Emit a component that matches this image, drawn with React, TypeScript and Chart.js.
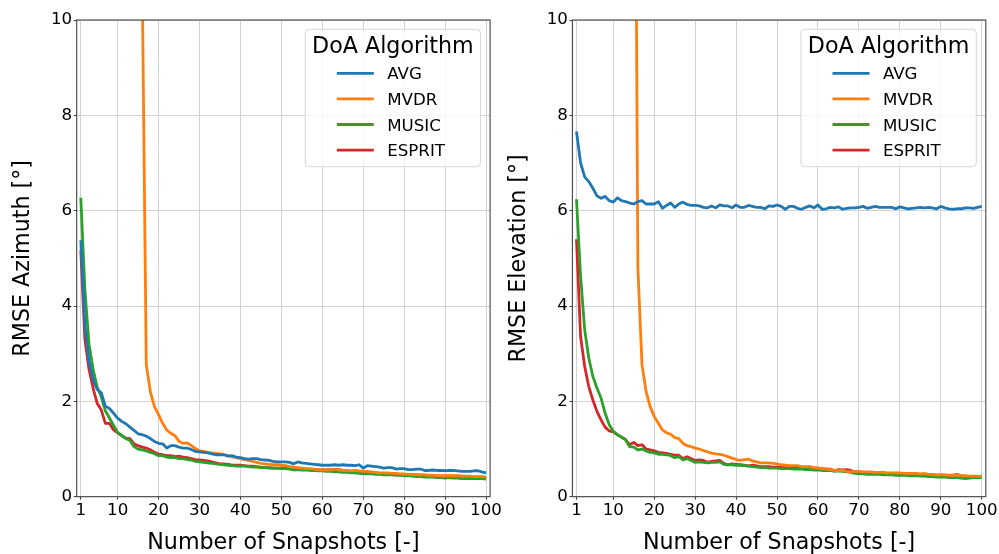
import React, { useEffect, useRef } from "react";
import { Chart, registerables } from "chart.js";

Chart.register(...registerables);

const SNAPSHOTS: number[] = Array.from({ length: 100 }, (_, i) => i + 1);
const X_TICKS = [1, 10, 20, 30, 40, 50, 60, 70, 80, 90, 100];
const SERIES_NAMES = ["AVG", "MVDR", "MUSIC", "ESPRIT"];
const SERIES_COLORS = ["#1f77b4", "#ff7f0e", "#2ca02c", "#d62728"];
const LEGEND_TITLE = "DoA Algorithm";
const X_TITLE = "Number of Snapshots [-]";
const Y_TITLE_AZ = "RMSE Azimuth [°]";
const Y_TITLE_EL = "RMSE Elevation [°]";

// ---- Azimuth (left) ----
const AVG_AZ = [
  5.38, 3.6, 2.85, 2.45, 2.25, 2.18, 1.9, 1.85, 1.75, 1.65,
  1.58, 1.53, 1.46, 1.39, 1.32, 1.3, 1.27, 1.22, 1.16, 1.12,
  1.11, 1.02, 1.07, 1.07, 1.04, 1.02, 1.02, 0.99, 0.95, 0.94,
  0.93, 0.92, 0.9, 0.88, 0.88, 0.88, 0.85, 0.86, 0.83, 0.82,
  0.8, 0.79, 0.8, 0.8, 0.78, 0.77, 0.76, 0.74, 0.73, 0.73,
  0.73, 0.72, 0.69, 0.73, 0.71, 0.7, 0.69, 0.68, 0.67, 0.66,
  0.66, 0.66, 0.67, 0.66, 0.67, 0.66, 0.66, 0.65, 0.67, 0.6,
  0.65, 0.64, 0.63, 0.62, 0.6, 0.61, 0.61, 0.58, 0.59, 0.59,
  0.57, 0.57, 0.58, 0.58, 0.55, 0.55, 0.56, 0.55, 0.55, 0.545,
  0.55, 0.55, 0.54, 0.53, 0.53, 0.53, 0.54, 0.545, 0.52, 0.5,
];
const MVDR_AZ = [
  null, null, null, null, null, null, null, null, null, null,
  null, null, null, null, 14.0, 10.9, 2.77, 2.2, 1.89, 1.72,
  1.54, 1.4, 1.33, 1.28, 1.16, 1.12, 1.13, 1.07, 1.01, 0.96,
  0.95, 0.93, 0.92, 0.91, 0.9, 0.88, 0.86, 0.84, 0.82, 0.8,
  0.78, 0.76, 0.74, 0.72, 0.7, 0.69, 0.68, 0.67, 0.67, 0.66,
  0.65, 0.63, 0.62, 0.61, 0.6, 0.59, 0.59, 0.58, 0.57, 0.56,
  0.57, 0.56, 0.58, 0.56, 0.55, 0.55, 0.54, 0.55, 0.54, 0.53,
  0.53, 0.52, 0.51, 0.5, 0.5, 0.5, 0.49, 0.49, 0.48, 0.48,
  0.47, 0.47, 0.46, 0.46, 0.46, 0.45, 0.45, 0.44, 0.44, 0.44,
  0.44, 0.44, 0.44, 0.43, 0.43, 0.43, 0.42, 0.42, 0.42, 0.41,
];
const MUSIC_AZ = [
  6.27, 4.35, 3.2, 2.68, 2.3, 2.1, 1.8, 1.65, 1.5, 1.35,
  1.28, 1.22, 1.18, 1.05, 1.0, 0.98, 0.96, 0.93, 0.9, 0.86,
  0.86, 0.83, 0.82, 0.82, 0.8, 0.8, 0.78, 0.77, 0.74, 0.73,
  0.72, 0.71, 0.7, 0.69, 0.68, 0.67, 0.66, 0.65, 0.64, 0.64,
  0.64, 0.63, 0.62, 0.62, 0.61, 0.61, 0.6, 0.6, 0.6, 0.59,
  0.59, 0.58, 0.56, 0.57, 0.56, 0.56, 0.55, 0.55, 0.54, 0.54,
  0.53, 0.53, 0.52, 0.52, 0.51, 0.51, 0.5, 0.5, 0.49, 0.48,
  0.48, 0.48, 0.47, 0.47, 0.46, 0.46, 0.46, 0.45, 0.45, 0.44,
  0.44, 0.43, 0.42, 0.42, 0.41, 0.41, 0.41, 0.4, 0.4, 0.39,
  0.4, 0.39, 0.39, 0.38, 0.38, 0.38, 0.38, 0.38, 0.38, 0.37,
];
const ESPRIT_AZ = [
  5.17, 3.3, 2.68, 2.28, 1.96, 1.82, 1.54, 1.54, 1.4, 1.34,
  1.28, 1.23, 1.22, 1.11, 1.07, 1.04, 1.02, 0.985, 0.93, 0.895,
  0.88, 0.86, 0.86, 0.84, 0.85, 0.83, 0.82, 0.8, 0.78, 0.77,
  0.76, 0.75, 0.73, 0.71, 0.69, 0.69, 0.68, 0.66, 0.66, 0.66,
  0.65, 0.64, 0.64, 0.63, 0.62, 0.61, 0.61, 0.6, 0.6, 0.6,
  0.6, 0.6, 0.57, 0.58, 0.59, 0.58, 0.57, 0.56, 0.56, 0.56,
  0.56, 0.57, 0.55, 0.57, 0.55, 0.54, 0.53, 0.53, 0.52, 0.5,
  0.51, 0.51, 0.5, 0.49, 0.48, 0.48, 0.48, 0.47, 0.46, 0.46,
  0.46, 0.47, 0.46, 0.44, 0.44, 0.44, 0.44, 0.43, 0.43, 0.43,
  0.43, 0.43, 0.43, 0.43, 0.42, 0.42, 0.41, 0.41, 0.41, 0.39,
];

// ---- Elevation (right) ----
const AVG_EL = [
  7.66, 7.0, 6.71, 6.61, 6.47, 6.31, 6.26, 6.3, 6.21, 6.18,
  6.27, 6.21, 6.19, 6.16, 6.14, 6.19, 6.21, 6.14, 6.14, 6.14,
  6.19, 6.05, 6.11, 6.16, 6.07, 6.14, 6.18, 6.13, 6.11, 6.11,
  6.1, 6.07, 6.06, 6.1, 6.06, 6.12, 6.1, 6.1, 6.06, 6.12,
  6.07, 6.07, 6.11, 6.09, 6.07, 6.07, 6.04, 6.1, 6.09, 6.12,
  6.09, 6.03, 6.09, 6.09, 6.05, 6.03, 6.07, 6.1, 6.06, 6.12,
  6.03, 6.04, 6.07, 6.06, 6.08, 6.03, 6.05, 6.06, 6.06, 6.07,
  6.09, 6.05, 6.07, 6.09, 6.07, 6.07, 6.07, 6.07, 6.04, 6.08,
  6.06, 6.04, 6.05, 6.06, 6.07, 6.06, 6.07, 6.06, 6.04, 6.09,
  6.06, 6.04, 6.03, 6.04, 6.04, 6.06, 6.06, 6.05, 6.07, 6.09,
];
const MVDR_EL = [
  null, null, null, null, null, null, null, null, null, null,
  null, null, null, null, 19.8, 4.8, 2.77, 2.21, 1.89, 1.68,
  1.54, 1.4, 1.34, 1.31, 1.24, 1.22, 1.12, 1.07, 1.05, 1.02,
  1.0, 0.97, 0.94, 0.915, 0.9, 0.89, 0.87, 0.84, 0.81, 0.78,
  0.76, 0.78, 0.79, 0.75, 0.73, 0.71, 0.71, 0.71, 0.7, 0.69,
  0.67, 0.66, 0.65, 0.65, 0.65, 0.63, 0.63, 0.63, 0.61, 0.6,
  0.59, 0.58, 0.57, 0.55, 0.55, 0.55, 0.53, 0.52, 0.53, 0.53,
  0.52, 0.52, 0.52, 0.51, 0.51, 0.51, 0.5, 0.5, 0.5, 0.5,
  0.49, 0.49, 0.49, 0.49, 0.48, 0.49, 0.47, 0.47, 0.46, 0.46,
  0.46, 0.45, 0.45, 0.46, 0.44, 0.44, 0.43, 0.43, 0.43, 0.425,
];
const MUSIC_EL = [
  6.24, 4.62, 3.5, 2.91, 2.52, 2.28, 2.07, 1.75, 1.51, 1.37,
  1.3, 1.25, 1.19, 1.05, 1.04, 0.98, 1.0, 0.96, 0.93, 0.92,
  0.89, 0.89, 0.88, 0.86, 0.82, 0.84, 0.77, 0.8, 0.76, 0.72,
  0.73, 0.72, 0.71, 0.72, 0.72, 0.73, 0.68, 0.67, 0.67, 0.66,
  0.66, 0.65, 0.64, 0.63, 0.62, 0.61, 0.61, 0.6, 0.6, 0.6,
  0.59, 0.59, 0.59, 0.58, 0.58, 0.58, 0.57, 0.57, 0.56, 0.56,
  0.55, 0.55, 0.55, 0.53, 0.54, 0.53, 0.52, 0.51, 0.49, 0.48,
  0.48, 0.47, 0.47, 0.47, 0.47, 0.46, 0.46, 0.46, 0.45, 0.45,
  0.45, 0.44, 0.44, 0.44, 0.43, 0.43, 0.42, 0.42, 0.41, 0.41,
  0.41, 0.4, 0.4, 0.4, 0.39, 0.38, 0.39, 0.4, 0.4, 0.4,
];
const ESPRIT_EL = [
  5.4, 3.36, 2.73, 2.31, 2.03, 1.79, 1.61, 1.46, 1.38, 1.36,
  1.3, 1.25, 1.2, 1.09, 1.14, 1.07, 1.09, 1.0, 0.98, 0.96,
  0.93, 0.92, 0.91, 0.89, 0.87, 0.87, 0.8, 0.84, 0.8, 0.76,
  0.77, 0.76, 0.72, 0.74, 0.75, 0.76, 0.7, 0.67, 0.69, 0.68,
  0.67, 0.66, 0.645, 0.66, 0.645, 0.63, 0.63, 0.63, 0.62, 0.62,
  0.62, 0.62, 0.61, 0.6, 0.6, 0.6, 0.61, 0.62, 0.6, 0.6,
  0.59, 0.58, 0.58, 0.545, 0.57, 0.56, 0.57, 0.55, 0.52, 0.51,
  0.51, 0.5, 0.5, 0.5, 0.49, 0.49, 0.49, 0.48, 0.48, 0.48,
  0.48, 0.47, 0.47, 0.47, 0.46, 0.46, 0.45, 0.45, 0.44, 0.44,
  0.44, 0.44, 0.45, 0.47, 0.43, 0.42, 0.42, 0.42, 0.42, 0.42,
];

const FONT = '"DejaVu Sans", "Liberation Sans", sans-serif';
const TICK_SIZE = 16.67;
const LABEL_SIZE = 22.2;
const GRID_COLOR = "#d2d2d2";
const SPINE_COLOR = "#444444";

const framePlugin = {
  id: "mplFrame",
  afterDatasetsDraw(chart: any) {
    const { ctx, chartArea: a } = chart;
    ctx.save();
    ctx.strokeStyle = SPINE_COLOR;
    ctx.lineWidth = 1.1;
    ctx.strokeRect(a.left, a.top, a.right - a.left, a.bottom - a.top);
    ctx.restore();
  },
};

const legendPlugin = {
  id: "mplLegend",
  afterDraw(chart: any) {
    const { ctx, chartArea: a } = chart;
    const w = 175.4;
    const h = 137.4;
    const right = a.right - 9.5;
    const top = a.top + 9.3;
    const left = right - w;
    ctx.save();
    ctx.beginPath();
    if ((ctx as any).roundRect) (ctx as any).roundRect(left, top, w, h, 4);
    else ctx.rect(left, top, w, h);
    ctx.fillStyle = "rgba(255,255,255,0.8)";
    ctx.fill();
    ctx.strokeStyle = "rgba(204,204,204,0.8)";
    ctx.lineWidth = 1;
    ctx.stroke();
    ctx.fillStyle = "#000";
    ctx.font = `${LABEL_SIZE}px ${FONT}`;
    ctx.textAlign = "center";
    ctx.textBaseline = "alphabetic";
    ctx.fillText(LEGEND_TITLE, left + w / 2, top + 24);
    ctx.font = `${TICK_SIZE}px ${FONT}`;
    ctx.textAlign = "left";
    chart.data.datasets.forEach((ds: any, i: number) => {
      const y = top + 44 + i * 25.6;
      ctx.strokeStyle = ds.borderColor;
      ctx.lineWidth = 2.8;
      ctx.lineCap = "square";
      ctx.beginPath();
      ctx.moveTo(left + 33, y);
      ctx.lineTo(left + 67.2, y);
      ctx.stroke();
      ctx.fillStyle = "#000";
      ctx.fillText(ds.label, left + 82, y + 6);
    });
    ctx.restore();
  },
};

function makeConfig(
  series: (number | null)[][],
  yTitle: string,
  padLeft: number,
  padRight: number,
  yAxisWidth: number,
  titlePad: number
): any {
  return {
    type: "line",
    data: {
      datasets: series.map((arr, k) => ({
        label: SERIES_NAMES[k],
        data: SNAPSHOTS.map((x, i) => ({ x, y: arr[i] })),
        borderColor: SERIES_COLORS[k],
        backgroundColor: SERIES_COLORS[k],
        borderWidth: 2.8,
        pointRadius: 0,
        tension: 0,
        borderJoinStyle: "round",
        clip: 0,
        spanGaps: false,
      })),
    },
    options: {
      responsive: false,
      animation: false,
      devicePixelRatio: 1,
      events: [],
      layout: {
        autoPadding: false,
        padding: { left: padLeft, right: padRight, top: 20, bottom: 0 },
      },
      plugins: { legend: { display: false }, tooltip: { enabled: false } },
      scales: {
        x: {
          type: "linear",
          min: 0,
          max: 101,
          afterBuildTicks: (s: any) => {
            s.ticks = X_TICKS.map((v) => ({ value: v }));
          },
          afterFit: (s: any) => {
            s.height = 57.3;
            s.paddingLeft = 0;
            s.paddingRight = 0;
          },
          ticks: {
            autoSkip: false,
            maxRotation: 0,
            minRotation: 0,
            padding: 2.5,
            color: "#000",
            font: { family: FONT, size: TICK_SIZE, lineHeight: 1 },
          },
          grid: {
            color: GRID_COLOR,
            lineWidth: 1,
            tickLength: 3,
            tickColor: SPINE_COLOR,
            tickWidth: 1.1,
          },
          border: { display: false },
          title: {
            display: true,
            text: X_TITLE,
            color: "#000",
            font: { family: FONT, size: LABEL_SIZE, lineHeight: 1 },
            padding: { top: 0, bottom: 0 },
          },
        },
        y: {
          type: "linear",
          min: 0,
          max: 10,
          afterFit: (s: any) => {
            s.width = yAxisWidth;
            s.paddingTop = 0;
            s.paddingBottom = 0;
          },
          ticks: {
            stepSize: 2,
            padding: 1.5,
            color: "#000",
            font: { family: FONT, size: TICK_SIZE, lineHeight: 1 },
          },
          grid: {
            color: GRID_COLOR,
            lineWidth: 1,
            tickLength: 3,
            tickColor: SPINE_COLOR,
            tickWidth: 1.1,
          },
          border: { display: false },
          title: {
            display: true,
            text: yTitle,
            color: "#000",
            font: { family: FONT, size: LABEL_SIZE, lineHeight: 1 },
            padding: { top: titlePad, bottom: 0 },
          },
        },
      },
    },
    plugins: [framePlugin, legendPlugin],
  };
}

export default function App() {
  const leftRef = useRef<HTMLCanvasElement | null>(null);
  const rightRef = useRef<HTMLCanvasElement | null>(null);

  useEffect(() => {
    document.body.style.margin = "0";
    const charts: Chart[] = [];
    if (leftRef.current) {
      charts.push(
        new Chart(
          leftRef.current,
          makeConfig([AVG_AZ, MVDR_AZ, MUSIC_AZ, ESPRIT_AZ], Y_TITLE_AZ, 0, 999 - 490.1, 76.7, 12)
        )
      );
    }
    if (rightRef.current) {
      charts.push(
        new Chart(
          rightRef.current,
          makeConfig([AVG_EL, MVDR_EL, MUSIC_EL, ESPRIT_EL], Y_TITLE_EL, 500, 999 - 985.8, 72.4, 8)
        )
      );
    }
    return () => charts.forEach((c) => c.destroy());
  }, []);

  const canvasStyle: React.CSSProperties = {
    position: "absolute",
    left: 0,
    top: 0,
    width: 999,
    height: 554,
  };

  return (
    <div style={{ position: "fixed", left: 0, top: 0, width: 999, height: 554, background: "#fff" }}>
      <canvas ref={leftRef} width={999} height={554} style={canvasStyle} />
      <canvas ref={rightRef} width={999} height={554} style={canvasStyle} />
    </div>
  );
}
